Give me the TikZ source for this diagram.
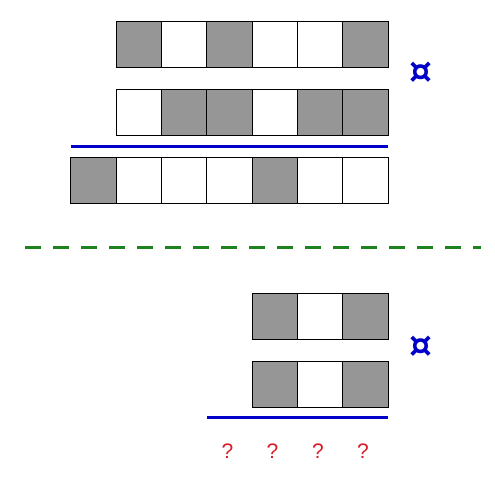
\documentclass[tikz,border=0pt]{standalone}
\usepackage{fontspec}
\setmainfont{Liberation Sans}
\newfontfamily\symfont{DejaVu Sans}
\definecolor{cellgray}{RGB}{150,150,150}
\definecolor{lineblue}{RGB}{0,0,200}
\definecolor{dashgreen}{RGB}{30,130,30}
\definecolor{qred}{RGB}{215,30,40}
\begin{document}
\begin{tikzpicture}[x=1pt,y=-1pt,
  cellbox/.style={draw=black,line width=1pt,minimum width=45.33pt,minimum height=46pt,inner sep=0pt,outer sep=0pt},
  gcell/.style={cellbox,fill=cellgray},
  wcell/.style={cellbox,fill=white},
  bluerule/.style={draw=lineblue,line width=3pt},
  greendash/.style={draw=dashgreen,line width=3pt,dash pattern=on 16pt off 12pt},
  opsym/.style={text=lineblue,font=\symfont\bfseries\fontsize{36}{36}\selectfont,inner sep=0pt},
  qmark/.style={text=qred,font=\fontsize{21}{21}\selectfont,inner sep=0pt}
]
\useasboundingbox (0,0) rectangle (495,483);
% row 1
\node[gcell] (a1) at (116+22.67,44) {};
\node[wcell] (a2) at (161.33+22.67,44) {};
\node[gcell] (a3) at (206.67+22.67,44) {};
\node[wcell] (a4) at (252+22.67,44) {};
\node[wcell] (a5) at (297.33+22.67,44) {};
\node[gcell] (a6) at (342.67+22.67,44) {};
% row 2
\node[wcell] (b1) at (116+22.67,112) {};
\node[gcell] (b2) at (161.33+22.67,112) {};
\node[gcell] (b3) at (206.67+22.67,112) {};
\node[wcell] (b4) at (252+22.67,112) {};
\node[gcell] (b5) at (297.33+22.67,112) {};
\node[gcell] (b6) at (342.67+22.67,112) {};
% rule
\coordinate (r1s) at (71,146);
\coordinate (r1e) at (388,146);
\draw[bluerule] (r1s) -- (r1e);
% row 3
\node[gcell] (c1) at (70.67+22.67,180) {};
\node[wcell] (c2) at (116+22.67,180) {};
\node[wcell] (c3) at (161.33+22.67,180) {};
\node[wcell] (c4) at (206.67+22.67,180) {};
\node[gcell] (c5) at (252+22.67,180) {};
\node[wcell] (c6) at (297.33+22.67,180) {};
\node[wcell] (c7) at (342.67+22.67,180) {};
\node[opsym] (op1) at (420.5,73) {¤};
% dashed separator
\coordinate (ds) at (25,247.5);
\coordinate (de) at (481,247.5);
\draw[greendash] (ds) -- (de);
% bottom rows
\node[gcell] (d1) at (252+22.67,316) {};
\node[wcell] (d2) at (297.33+22.67,316) {};
\node[gcell] (d3) at (342.67+22.67,316) {};
\node[gcell] (e1) at (252+22.67,384) {};
\node[wcell] (e2) at (297.33+22.67,384) {};
\node[gcell] (e3) at (342.67+22.67,384) {};
\node[opsym] (op2) at (420.5,347) {¤};
\coordinate (r2s) at (207,417.5);
\coordinate (r2e) at (388,417.5);
\draw[bluerule] (r2s) -- (r2e);
\node[qmark] (q1) at (227.5,451) {?};
\node[qmark] (q2) at (272.5,451) {?};
\node[qmark] (q3) at (318,451) {?};
\node[qmark] (q4) at (363,451) {?};
\end{tikzpicture}
\end{document}
